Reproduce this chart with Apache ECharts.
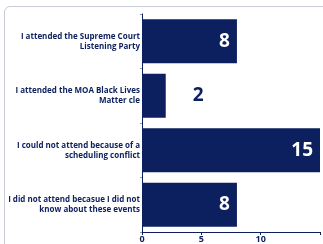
<!DOCTYPE html>
<html>
<head>
<meta charset="utf-8">
<script src="https://cdn.jsdelivr.net/npm/echarts@6/dist/echarts.min.js"></script>
<style>
  html, body { margin: 0; padding: 0; background: #fff; overflow: hidden; }
  #card {
    position: absolute; left: 4px; top: 6px; width: 340px; height: 260px;
    border: 1px solid #c9ccd8; border-radius: 6px; box-sizing: border-box;
  }
  #chart { position: absolute; left: 0; top: 0; width: 323px; height: 244px; }
</style>
</head>
<body>
<div id="card"></div>
<div id="chart"></div>
<script>
var categories = [
  'I attended the Supreme Court\nListening Party',
  'I attended the MOA Black Lives\nMatter cle',
  'I could not attend because of a\nscheduling conflict',
  'I did not attend becasue I did not\nknow about these events'
];
var counts = [8, 2, 15, 8];
var xTicks = [0, 5, 10];

var navy = '#0c1f5e';

var myChart = echarts.init(document.getElementById('chart'));

var barData = counts.map(function (v) {
  if (v < 4) {
    return {
      value: v,
      label: { position: 'right', distance: 27, color: navy }
    };
  }
  return v;
});

var option = {
  animation: false,
  grid: { left: 142, right: 1, top: 14, bottom: 12 },
  xAxis: {
    type: 'value',
    min: 0,
    max: 15,
    interval: 5,
    splitLine: { show: false },
    axisLine: { show: true, lineStyle: { color: navy, width: 1 } },
    axisTick: { show: true, length: 3, lineStyle: { color: navy } },
    axisLabel: {
      color: navy, fontWeight: 'bold', fontSize: 9, fontFamily: 'Open Sans', margin: 3,
      formatter: function (v) { return xTicks.indexOf(v) >= 0 ? v : ''; }
    }
  },
  yAxis: {
    type: 'category',
    inverse: true,
    data: categories,
    axisLine: { show: true, lineStyle: { color: navy, width: 1 } },
    axisTick: { show: true, length: 2, lineStyle: { color: '#8a93b0' } },
    axisLabel: {
      color: navy, fontWeight: 'bold', fontSize: 8, fontFamily: 'Open Sans',
      lineHeight: 10, margin: 2, align: 'right'
    }
  },
  series: [
    {
      type: 'bar',
      data: barData,
      barCategoryGap: '19%',
      itemStyle: { color: navy },
      label: {
        show: true,
        position: 'insideRight',
        distance: 7,
        color: '#fff',
        fontSize: 19,
        fontWeight: 'bold',
        fontFamily: 'Open Sans'
      }
    }
  ]
};

myChart.setOption(option);
</script>
</body>
</html>
